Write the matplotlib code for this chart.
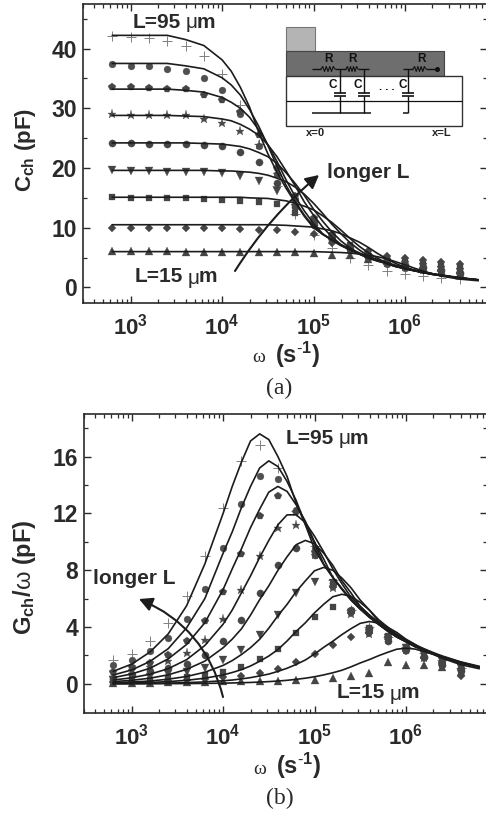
import numpy as np
import matplotlib
matplotlib.use('Agg')
import matplotlib.pyplot as plt
from matplotlib.patches import Rectangle, FancyArrowPatch
from matplotlib.ticker import FixedLocator, NullFormatter

plt.rcParams['font.family'] = ['Liberation Sans', 'DejaVu Sans']
plt.rcParams['mathtext.fontset'] = 'custom'
plt.rcParams['mathtext.rm'] = 'Liberation Sans'
plt.rcParams['mathtext.bf'] = 'Liberation Sans:bold'
plt.rcParams['mathtext.it'] = 'Liberation Sans:italic'

# ---------------------- data ----------------------
# measured points: log10(omega)
log_w_pts = [2.8, 3.0, 3.2, 3.4, 3.6, 3.8, 4.0, 4.2, 4.4, 4.6,
             4.8, 5.0, 5.2, 5.4, 5.6, 5.8, 6.0, 6.2, 6.4, 6.6]
# fitted lines: log10(omega)
log_w_fit = [2.8, 3.0, 3.2, 3.4, 3.6, 3.8, 4.0, 4.1, 4.2, 4.3, 4.4, 4.5, 4.6, 4.7, 4.8, 4.9, 5.0,
             5.1, 5.2, 5.3, 5.4, 5.5, 5.6, 5.7, 5.8, 5.9, 6.0, 6.1, 6.2, 6.3, 6.4, 6.6, 6.8]

# C_ch measured, L = 95 ... 15 um
c_95 = [42.1, 41.9, 41.7, 41.3, 40.4, 38.8, 35.8, 30.5, 24.0, 17.0, 12.3, 8.8, 6.6, 5.0, 3.7, 2.8, 2.2, 1.9, 1.6, 1.4]
c_85 = [37.4, 37.1, 37.0, 36.6, 36.2, 35.1, 33.0, 29.0, 23.7, 19.0, 14.8, 11.0, 8.5, 6.4, 5.0, 4.0, 3.3, 2.9, 2.5, 2.1]
c_75 = [33.6, 33.5, 33.4, 33.3, 33.2, 32.3, 31.4, 29.3, 25.5, 20.0, 15.3, 11.6, 8.7, 6.6, 5.2, 4.2, 3.6, 3.1, 2.7, 2.3]
c_65 = [29.0, 28.9, 28.9, 28.9, 28.8, 28.2, 27.6, 26.2, 23.8, 19.0, 14.5, 11.0, 8.0, 6.4, 5.0, 4.1, 3.5, 3.0, 2.6, 2.2]
c_55 = [24.2, 24.1, 24.0, 24.0, 24.0, 23.9, 23.7, 22.6, 21.0, 17.5, 13.5, 10.5, 8.0, 6.4, 5.2, 4.4, 3.8, 3.4, 3.0, 2.5]
c_45 = [19.6, 19.5, 19.5, 19.4, 19.4, 19.3, 19.2, 18.7, 17.9, 16.2, 13.3, 10.4, 8.0, 6.4, 5.1, 4.3, 3.8, 3.4, 3.0, 2.6]
c_35 = [15.1, 15.0, 15.0, 14.9, 14.9, 14.8, 14.6, 14.5, 14.3, 14.0, 12.4, 11.2, 8.8, 7.1, 5.4, 4.8, 4.4, 4.0, 3.7, 3.3]
c_25 = [9.9, 9.9, 9.9, 9.9, 9.9, 9.9, 9.9, 9.8, 9.7, 9.6, 9.3, 8.9, 7.4, 6.6, 6.1, 5.3, 4.9, 4.6, 4.3, 3.9]
c_15 = [6.15, 6.1, 6.1, 6.05, 6.0, 6.0, 6.0, 6.0, 6.0, 5.95, 5.9, 5.8, 5.5, 5.4, 4.8, 4.4, 4.1, 3.8, 3.5, 3.1]

# C_ch fitted lines
cf_95 = [42.2, 42.2, 42.2, 42.2, 41.5, 40.5, 38.1, 36.2, 33.5, 30.2, 26.0, 22.4, 19.3, 16.6, 14.2, 11.9, 10.0,
         8.9, 8.0, 7.1, 6.3, 5.6, 5.0, 4.5, 4.0, 3.5, 3.2, 2.8, 2.5, 2.2, 2.0, 1.56, 1.27]
cf_85 = [37.5, 37.5, 37.5, 37.5, 37.1, 36.6, 35.1, 33.9, 32.2, 29.8, 27.0, 23.8, 20.3, 17.1, 14.4, 12.1, 10.2,
         8.9, 8.0, 7.1, 6.3, 5.6, 5.0, 4.5, 4.0, 3.5, 3.2, 2.8, 2.5, 2.2, 2.0, 1.56, 1.25]
cf_75 = [33.2, 33.2, 33.2, 33.2, 33.0, 32.7, 31.8, 31.0, 30.0, 28.5, 26.4, 23.9, 21.1, 18.0, 15.2, 12.8, 10.7,
         9.0, 7.9, 7.0, 6.3, 5.6, 4.9, 4.4, 4.0, 3.5, 3.1, 2.8, 2.5, 2.2, 2.0, 1.56, 1.25]
cf_65 = [28.8, 28.8, 28.8, 28.8, 28.7, 28.6, 28.2, 27.9, 27.3, 26.5, 25.5, 23.9, 21.9, 19.5, 17.0, 14.3, 12.1,
         10.1, 8.5, 7.2, 6.45, 5.8, 5.1, 4.6, 4.1, 3.6, 3.2, 2.9, 2.6, 2.3, 2.0, 1.6, 1.27]
cf_55 = [24.2, 24.2, 24.2, 24.2, 24.2, 24.1, 24.0, 23.8, 23.6, 23.2, 22.6, 21.9, 20.8, 19.2, 17.4, 15.4, 13.1,
         11.1, 9.3, 7.8, 6.6, 5.7, 5.1, 4.6, 4.1, 3.6, 3.2, 2.9, 2.6, 2.3, 2.0, 1.6, 1.27]
cf_45 = [19.6, 19.6, 19.6, 19.6, 19.6, 19.6, 19.5, 19.5, 19.4, 19.3, 19.1, 18.8, 18.3, 17.7, 16.8, 15.6, 14.1,
         12.4, 10.6, 9.0, 7.5, 6.3, 5.3, 4.6, 4.2, 3.7, 3.3, 2.9, 2.6, 2.3, 2.1, 1.65, 1.3]
cf_35 = [15.1, 15.1, 15.1, 15.1, 15.1, 15.1, 15.1, 15.1, 15.1, 15.0, 14.95, 14.9, 14.7, 14.5, 14.1, 13.6, 13.0,
         12.0, 10.9, 9.6, 8.2, 6.9, 5.8, 4.9, 4.1, 3.6, 3.2, 2.85, 2.5, 2.25, 2.0, 1.6, 1.27]
cf_25 = [10.5, 10.5, 10.5, 10.5, 10.5, 10.5, 10.5, 10.5, 10.5, 10.5, 10.5, 10.5, 10.45, 10.4, 10.3, 10.2, 10.1,
         9.8, 9.5, 9.0, 8.3, 7.6, 6.7, 5.7, 4.8, 4.0, 3.4, 2.9, 2.5, 2.2, 2.0, 1.56, 1.25]
cf_15 = [6.0, 6.0, 6.0, 6.0, 6.0, 6.0, 6.0, 6.0, 6.0, 6.0, 6.0, 6.0, 6.0, 6.0, 6.0, 6.0, 6.0,
         5.95, 5.9, 5.85, 5.75, 5.6, 5.4, 5.15, 4.8, 4.3, 3.8, 3.25, 2.75, 2.3, 1.9, 1.4, 1.13]

# G_ch/omega measured
g_95 = [1.7, 2.1, 3.0, 4.3, 6.2, 9.0, 12.4, 15.7, 16.8, 15.2, 12.2, 9.7, 7.3, 5.2, 4.0, 3.3, 2.6, 2.2, 1.7, 1.1]
g_85 = [1.3, 1.7, 2.3, 3.2, 4.6, 6.7, 9.6, 12.65, 14.65, 14.4, 12.25, 9.55, 7.1, 5.1, 3.8, 3.3, 2.4, 1.9, 1.6, 1.1]
g_75 = [0.87, 1.2, 1.45, 2.0, 3.0, 4.4, 6.5, 9.15, 11.8, 13.2, 12.1, 9.3, 6.85, 5.0, 3.6, 3.2, 2.3, 1.8, 1.5, 1.0]
g_65 = [0.5, 0.95, 1.2, 1.6, 2.15, 3.1, 4.6, 6.6, 9.0, 11.0, 11.2, 9.1, 6.75, 4.9, 3.5, 3.1, 2.4, 1.8, 1.4, 0.9]
g_55 = [0.4, 0.65, 0.9, 1.1, 1.4, 2.05, 3.05, 4.5, 6.4, 8.4, 9.55, 9.1, 7.1, 5.2, 3.9, 3.0, 2.6, 1.9, 1.3, 0.9]
g_45 = [0.28, 0.47, 0.5, 0.7, 0.87, 1.1, 1.65, 2.4, 3.45, 4.85, 6.4, 7.2, 7.1, 5.0, 3.6, 3.2, 2.5, 2.0, 1.6, 1.1]
g_35 = [0.16, 0.25, 0.3, 0.4, 0.5, 0.63, 0.87, 1.17, 1.75, 2.45, 3.55, 4.7, 5.4, 5.1, 3.9, 3.4, 2.6, 2.2, 1.6, 1.2]
g_25 = [0.1, 0.13, 0.16, 0.2, 0.25, 0.33, 0.5, 0.56, 0.75, 1.05, 1.55, 2.1, 2.75, 3.3, 3.6, 3.3, 2.3, 1.8, 1.35, 0.55]
g_15 = [0.05, 0.07, 0.08, 0.1, 0.12, 0.14, 0.18, 0.2, 0.22, 0.23, 0.28, 0.3, 0.4, 0.55, 0.8, 1.55, 1.35, 1.35, 1.2, 0.85]

# G_ch/omega fitted lines
gf_95 = [0.89, 1.39, 2.24, 3.52, 5.49, 8.44, 12.0, 13.9, 15.6, 17.1, 17.6, 17.2, 16.0, 14.6, 12.7, 11.2, 9.5,
         8.4, 7.5, 6.7, 5.95, 5.3, 4.7, 4.2, 3.75, 3.3, 2.98, 2.66, 2.36, 2.1, 1.88, 1.49, 1.18]
gf_85 = [0.63, 0.98, 1.58, 2.48, 3.94, 6.0, 9.2, 10.7, 12.4, 13.9, 15.2, 15.7, 15.3, 14.25, 12.9, 11.25, 9.9,
         8.45, 7.5, 6.7, 5.9, 5.3, 4.7, 4.2, 3.75, 3.3, 3.0, 2.65, 2.36, 2.1, 1.88, 1.49, 1.18]
gf_75 = [0.44, 0.7, 1.1, 1.76, 2.77, 4.3, 6.64, 8.1, 9.5, 11.0, 12.3, 13.5, 13.9, 13.55, 12.6, 11.45, 10.0,
         8.8, 7.5, 6.65, 5.9, 5.25, 4.7, 4.2, 3.7, 3.3, 2.95, 2.6, 2.35, 2.1, 1.87, 1.48, 1.17]
gf_65 = [0.27, 0.43, 0.68, 1.07, 1.7, 2.7, 4.2, 5.2, 6.4, 7.6, 8.9, 10.1, 11.2, 11.9, 11.9, 11.35, 10.4,
         9.3, 8.1, 7.05, 6.1, 5.45, 4.85, 4.3, 3.85, 3.4, 3.05, 2.7, 2.4, 2.15, 1.9, 1.5, 1.2]
gf_55 = [0.16, 0.25, 0.4, 0.64, 1.02, 1.6, 2.54, 3.15, 3.87, 4.84, 5.93, 6.9, 8.0, 8.95, 9.8, 10.1, 9.87,
         9.2, 8.35, 7.26, 6.4, 5.45, 4.84, 4.3, 3.82, 3.41, 3.05, 2.7, 2.42, 2.15, 1.91, 1.52, 1.2]
gf_45 = [0.08, 0.13, 0.2, 0.33, 0.52, 0.82, 1.3, 1.64, 2.06, 2.55, 3.14, 3.92, 4.8, 5.6, 6.5, 7.25, 7.96,
         8.2, 8.0, 7.45, 6.76, 5.9, 5.2, 4.4, 3.92, 3.5, 3.1, 2.76, 2.47, 2.2, 1.96, 1.55, 1.24]
gf_35 = [0.04, 0.063, 0.1, 0.16, 0.25, 0.4, 0.63, 0.8, 1.0, 1.26, 1.59, 1.96, 2.42, 3.02, 3.7, 4.3, 5.0,
         5.6, 6.13, 6.31, 6.16, 5.74, 5.2, 4.53, 4.0, 3.4, 3.02, 2.69, 2.39, 2.13, 1.9, 1.51, 1.19]
gf_25 = [0.014, 0.022, 0.035, 0.056, 0.088, 0.14, 0.22, 0.27, 0.35, 0.44, 0.56, 0.69, 0.88, 1.1, 1.37, 1.68, 2.1,
         2.57, 3.0, 3.47, 3.89, 4.26, 4.39, 4.28, 3.99, 3.62, 3.15, 2.78, 2.36, 2.1, 1.87, 1.48, 1.18]
gf_15 = [0.004, 0.006, 0.01, 0.016, 0.02, 0.032, 0.05, 0.063, 0.08, 0.1, 0.126, 0.16, 0.2, 0.25, 0.32, 0.4, 0.5,
         0.63, 0.78, 0.96, 1.2, 1.47, 1.71, 1.98, 2.22, 2.44, 2.51, 2.45, 2.28, 2.07, 1.8, 1.35, 1.07]

c_series = [c_95, c_85, c_75, c_65, c_55, c_45, c_35, c_25, c_15]
cf_series = [cf_95, cf_85, cf_75, cf_65, cf_55, cf_45, cf_35, cf_25, cf_15]
g_series = [g_95, g_85, g_75, g_65, g_55, g_45, g_35, g_25, g_15]
gf_series = [gf_95, gf_85, gf_75, gf_65, gf_55, gf_45, gf_35, gf_25, gf_15]

markers = ['+', 'o', 'p', '*', 'o', 'v', 's', 'D', '^']
sizes = [6.5, 5.0, 5.8, 6.6, 5.2, 5.8, 4.5, 4.4, 5.8]
colors = ['#808080', '#505050', '#454545', '#4a4a4a', '#454545', '#454545', '#454545', '#454545', '#454545']

x_ticks = [1e3, 1e4, 1e5, 1e6]
x_labels = [r'$\mathbf{10^{3}}$', r'$\mathbf{10^{4}}$', r'$\mathbf{10^{5}}$', r'$\mathbf{10^{6}}$']

W, H = 486, 816
INK = '#2a2a2a'

fig = plt.figure(figsize=(W / 100, H / 100), dpi=100)


def panel(left, top, bottom, ylim, yticks, yminor, meas, fit, x3):
    ax = fig.add_axes([left / W, 1 - bottom / H, (487 - left) / W, (bottom - top) / H])
    for y, yf, m, s, col in zip(meas, fit, markers, sizes, colors):
        ax.plot(10 ** np.array(log_w_pts), y, ls='none', marker=m, ms=s, mfc=col, mec=col,
                mew=0.7 if m == '+' else 0.2, zorder=2)
        ax.plot(10 ** np.array(log_w_fit), yf, color='#1c1c1c', lw=1.2, zorder=3)
    ax.set_xscale('log')
    ax.set_xlim(10 ** (3 - (x3 - left) / 91.4), 10 ** (3 + (487 - x3) / 91.4))
    ax.set_ylim(*ylim)
    ax.set_xticks(x_ticks)
    ax.set_xticklabels(x_labels, fontsize=16, color=INK)
    ax.xaxis.set_minor_locator(FixedLocator([m * 10 ** e for e in range(2, 7) for m in range(2, 10)]))
    ax.xaxis.set_minor_formatter(NullFormatter())
    ax.set_yticks(yticks)
    ax.set_yticklabels([str(v) for v in yticks], fontsize=16.5, fontweight='bold', color=INK)
    ax.yaxis.set_minor_locator(FixedLocator(yminor))
    ax.tick_params(which='major', direction='in', top=True, right=True, length=5, width=1.0, color=INK)
    ax.tick_params(which='minor', direction='in', top=True, right=True, length=2.8, width=0.9, color=INK)
    ax.tick_params(axis='x', which='major', pad=8)
    ax.tick_params(axis='y', which='major', pad=4)
    for sp in ax.spines.values():
        sp.set_linewidth(1.2)
        sp.set_color(INK)
    return ax


ax_c = panel(82.5, 4, 302.7, (-2.55, 47.45), [0, 10, 20, 30, 40], [5, 15, 25, 35, 45],
             c_series, cf_series, 130.7)
ax_g = panel(83.5, 414, 712.7, (-2.03, 19.0), [0, 4, 8, 12, 16], [2, 6, 10, 14, 18],
             g_series, gf_series, 131.7)

# overlay in pixel coordinates for the labels and the circuit sketch
ov = fig.add_axes([0, 0, 1, 1], zorder=5)
ov.set_xlim(0, W)
ov.set_ylim(H, 0)
ov.axis('off')
ov.patch.set_alpha(0)


def length_label(x, y, s):
    ov.text(x, y, s, fontsize=15, fontweight='bold', color=INK, va='center', ha='left')
    ov.text(x + 53, y + 1, '\u03bc', fontsize=15, color=INK, va='center', ha='left')
    ov.text(x + 64, y, 'm', fontsize=15, fontweight='bold', color=INK, va='center', ha='left')


length_label(132.5, 22, 'L=95')
length_label(135, 277, 'L=15')
length_label(286, 438, 'L=95')
length_label(337, 693, 'L=15')
ov.text(327, 173, 'longer L', fontsize=15, fontweight='bold', color=INK, va='center')
ov.text(93, 578, 'longer L', fontsize=15, fontweight='bold', color=INK, va='center')

for p0, p1, rad in [((235, 271), (319, 175), -0.08), ((223, 697), (139, 599), 0.25)]:
    ov.add_patch(FancyArrowPatch(p0, p1, connectionstyle=f'arc3,rad={rad}',
                                 arrowstyle='-|>,head_length=5,head_width=2.6',
                                 mutation_scale=1.6, lw=1.5, color='#1c1c1c', shrinkA=0, shrinkB=0))

# axis titles
for x0, y0 in [(252, 357), (253, 768)]:
    ov.text(x0, y0 + 1, '\u03c9', family='Liberation Serif', fontsize=14, color=INK, va='center')
    ov.text(x0 + 23, y0 - 2, r'$\mathbf{(s^{\text{-}1})}$', fontsize=17, color=INK, va='center')
for y0, lab in [(388, '(a)'), (798, '(b)')]:
    ov.text(279.5, y0, lab, family='Liberation Serif', fontsize=17, color=INK, ha='center', va='center')
ov.text(25, 150, r'$\mathbf{C_{ch}\ (pF)}$', fontsize=16, color=INK, rotation=90, ha='center', va='center')
ov.text(25, 577, r'$\mathbf{G_{ch}/}\mathrm{\omega}\ \mathbf{(pF)}$', fontsize=17, color=INK,
        rotation=90, ha='center', va='center')


# circuit sketch
def zigzag(x0, x1, y, n=4, amp=2.5):
    xs = [x0]
    ys = [y]
    step = (x1 - x0) / (2 * n)
    for i in range(1, 2 * n):
        xs.append(x0 + i * step)
        ys.append(y - amp if i % 2 else y + amp)
    xs.append(x1)
    ys.append(y)
    ov.plot(xs, ys, color='#111111', lw=0.8)


def wire(xs, ys, lw=1.0):
    ov.plot(xs, ys, color='#111111', lw=lw, solid_capstyle='butt')


ov.add_patch(Rectangle((285.7, 26.7), 29, 24.3, fc='#b4b4b4', ec='#777777', lw=0.8))
ov.add_patch(Rectangle((285.7, 51), 158, 25, fc='#6e6e6e', ec='#444444', lw=0.8))
ov.add_patch(Rectangle((285.7, 76), 176, 49.7, fc='white', ec='#333333', lw=1.0))
wire([285.7, 461.7], [100.7, 100.7], 0.9)
wire([311.7, 321], [69, 69])
zigzag(321, 335, 69)
wire([335, 346], [69, 69])
zigzag(346, 358, 69)
wire([358, 369.3], [69, 69])
wire([402.7, 413], [69, 69])
zigzag(413, 426, 69)
wire([426, 436.7], [69, 69])
ov.plot([436.7], [69], 'o', ms=2.6, color='#111111')
for xc in [340, 364, 408.3]:
    wire([xc, xc], [69, 92.7])
    wire([xc - 6, xc + 6], [92.7, 92.7], 1.2)
    wire([xc - 6, xc + 6], [96, 96], 1.2)
    wire([xc, xc], [96, 112.7])
wire([311.7, 370.7], [112.7, 112.7], 1.1)
wire([402.7, 408.3], [112.7, 112.7], 1.1)
for x in [328, 352.7, 421]:
    ov.text(x, 59, 'R', fontsize=8.5, fontweight='bold', color='#111111', ha='center', va='center')
for x in [332.7, 357.3, 402.7]:
    ov.text(x, 85, 'C', fontsize=8.5, fontweight='bold', color='#111111', ha='center', va='center')
ov.text(387, 87, '. . .', fontsize=8, fontweight='bold', color='#111111', ha='center', va='center')
ov.text(315, 133, 'x=0', fontsize=8, fontweight='bold', color='#222222', ha='center', va='center')
ov.text(441.7, 133, 'x=L', fontsize=8, fontweight='bold', color='#222222', ha='center', va='center')

fig.savefig('out.png', dpi=100)
